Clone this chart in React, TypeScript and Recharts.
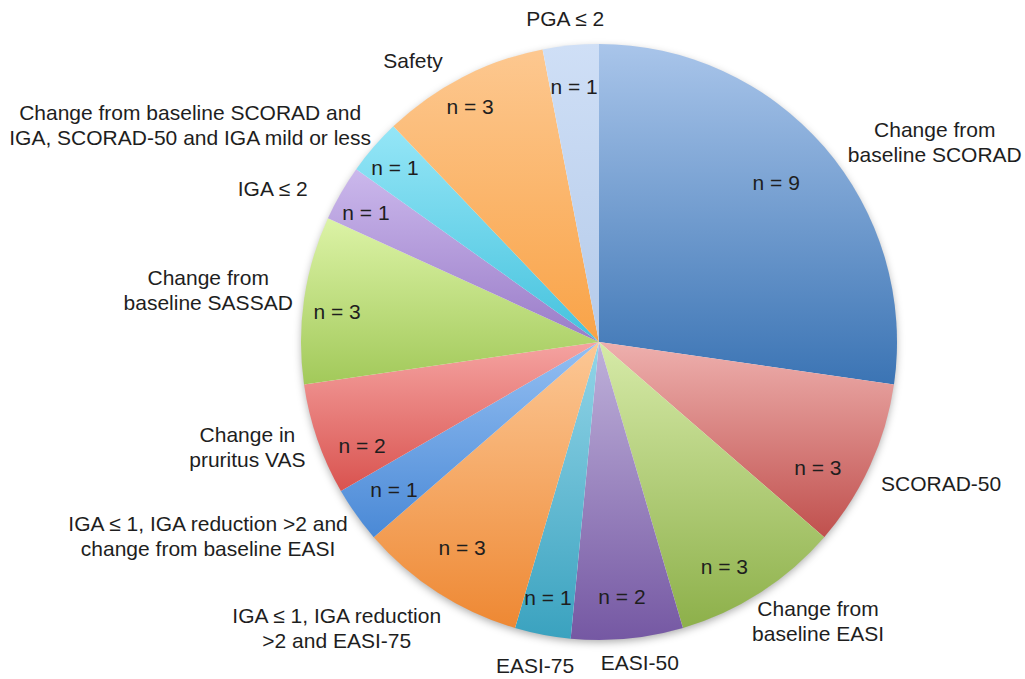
import React from "react";
import { PieChart, Pie, Cell } from "recharts";

// ---- data ----
const categories: string[] = [
  "Change from\nbaseline SCORAD",
  "SCORAD-50",
  "Change from\nbaseline EASI",
  "EASI-50",
  "EASI-75",
  "IGA ≤ 1, IGA reduction\n>2 and EASI-75",
  "IGA ≤ 1, IGA reduction >2 and\nchange from baseline EASI",
  "Change in\npruritus VAS",
  "Change from\nbaseline SASSAD",
  "IGA ≤ 2",
  "Change from baseline SCORAD and\nIGA, SCORAD-50 and IGA mild or less",
  "Safety",
  "PGA ≤ 2",
];
const counts: number[] = [9, 3, 3, 2, 1, 3, 1, 2, 3, 1, 1, 3, 1];

// ---- styling / layout (not data) ----
const gradientStops: [string, string][] = [
  ["#a9c5ea", "#3b74b4"],
  ["#eeb0ae", "#c0504d"],
  ["#d6eaa8", "#8db04a"],
  ["#bfb1da", "#7558a3"],
  ["#93d5e8", "#3aa2bf"],
  ["#fcc896", "#ee8833"],
  ["#94bff2", "#4a89d6"],
  ["#f5a3a1", "#d9534f"],
  ["#dcf3a6", "#a2c95a"],
  ["#cbb8ec", "#9a7cc8"],
  ["#95e6f7", "#45c2dd"],
  ["#fdc890", "#f9a347"],
  ["#cfdff6", "#b5cbea"],
];
const outerAngleShift = [-10.1, 2.1, 5.5, 1.8, -0.3, -9.8, -9.1, -2.5, 0.6, 4.7, 12.9, 6.1, 0.5];
const outerRadiusRatio = [1.312, 1.242, 1.188, 1.084, 1.104, 1.302, 1.464, 1.231, 1.323, 1.211, 1.554, 1.134, 1.094];
const innerAngleShift = [1.0, -5.2, -3.6, -0.3, -0.4, -0.9, 0.3, 4.6, 1.5, 1.0, 0.3, 1.4, 0.1];
const innerRadiusRatio = [0.799, 0.846, 0.864, 0.859, 0.873, 0.83, 0.848, 0.868, 0.885, 0.894, 0.902, 0.902, 0.862];

const data = categories.map((name, i) => ({ name, value: counts[i] }));

const RAD = Math.PI / 180;
const FONT = "'Liberation Sans', Arial, Helvetica, sans-serif";
const FONT_SIZE = 21;
const LINE_H = 25;

function renderLabel(props: any) {
  const { cx, cy, midAngle, outerRadius, index, value, name } = props;
  const oa = (midAngle + outerAngleShift[index]) * RAD;
  const orr = outerRadius * outerRadiusRatio[index];
  const ox = cx + orr * Math.cos(oa);
  const oy = cy - orr * Math.sin(oa);
  const ia = (midAngle + innerAngleShift[index]) * RAD;
  const ir = outerRadius * innerRadiusRatio[index];
  const ix = cx + ir * Math.cos(ia);
  const iy = cy - ir * Math.sin(ia);
  const lines = String(name).split("\n");
  return (
    <g key={`lbl-${index}`}>
      <text
        x={ox}
        y={oy}
        textAnchor="middle"
        dominantBaseline="central"
        fontFamily={FONT}
        fontSize={FONT_SIZE}
        fill="#1e1e1e"
      >
        {lines.map((l, i) => (
          <tspan key={i} x={ox} y={oy + (i - (lines.length - 1) / 2) * LINE_H}>
            {l}
          </tspan>
        ))}
      </text>
      <text
        x={ix}
        y={iy}
        textAnchor="middle"
        dominantBaseline="central"
        fontFamily={FONT}
        fontSize={FONT_SIZE}
        fill="#1e1e1e"
      >
        {`n = ${value}`}
      </text>
    </g>
  );
}

export default function App() {
  return (
    <div style={{ position: "absolute", left: 0, top: 0, width: 1025, height: 679, background: "#fff" }}>
      <PieChart width={1025} height={679} margin={{ top: 0, right: 0, bottom: 0, left: 0 }}>
        <defs>
          {gradientStops.map(([a, b], i) => (
            <linearGradient key={i} id={`g${i}`} x1="0" y1="0" x2="0" y2="1">
              <stop offset="0%" stopColor={a} />
              <stop offset="100%" stopColor={b} />
            </linearGradient>
          ))}
          <filter id="shadow" x="-10%" y="-10%" width="120%" height="120%">
            <feDropShadow dx="0" dy="3" stdDeviation="4" floodColor="#000" floodOpacity="0.35" />
          </filter>
        </defs>
        <Pie
          data={[{ name: "bg", value: 1 }]}
          dataKey="value"
          cx={599}
          cy={342}
          outerRadius={297}
          startAngle={90}
          endAngle={-270}
          stroke="none"
          isAnimationActive={false}
          label={false}
          labelLine={false}
        >
          <Cell fill="#ffffff" filter="url(#shadow)" />
        </Pie>
        <Pie
          data={data}
          dataKey="value"
          nameKey="name"
          cx={599}
          cy={342}
          outerRadius={298}
          startAngle={90}
          endAngle={-270}
          stroke="none"
          isAnimationActive={false}
          labelLine={false}
          label={renderLabel}
        >
          {data.map((_, i) => (
            <Cell key={i} fill={`url(#g${i})`} />
          ))}
        </Pie>
      </PieChart>
    </div>
  );
}
